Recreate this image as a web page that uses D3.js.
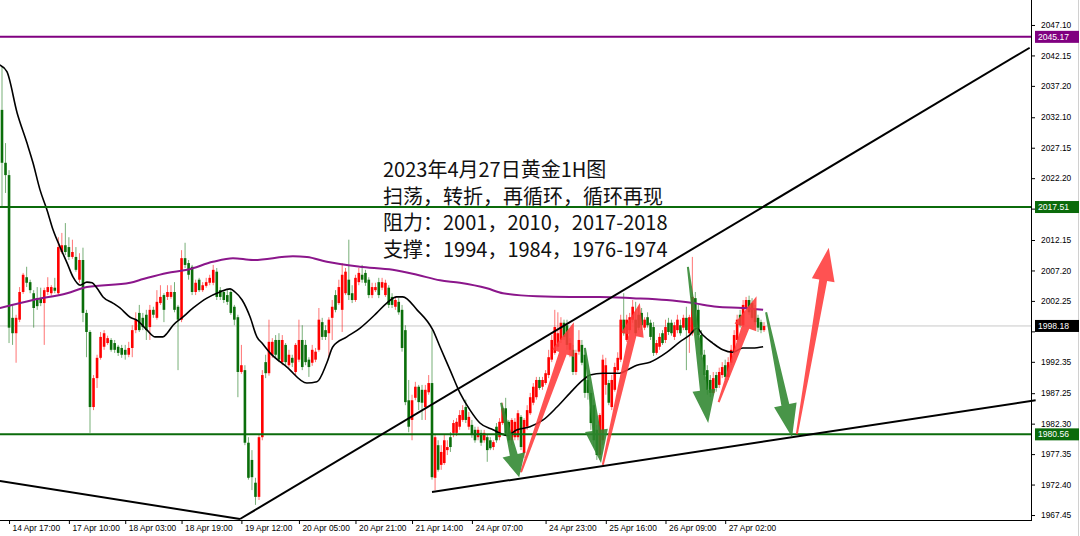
<!DOCTYPE html>
<html><head><meta charset="utf-8">
<script src="https://cdn.jsdelivr.net/npm/d3@7"></script>
<style>body{margin:0;background:#fff;}svg{display:block;}</style>
</head><body><svg id="c" width="1080" height="536"></svg>
<script>
// ---- DATA ----
// hourly candles [open, high, low, close]
const ohlc = [
[2033.3,2040.3,2017.5,2024.7],[2024.7,2027.9,2019.8,2022.7],[2022.7,2023.5,1995.4,1997.9],[1999.5,2001.6,1995.1,1997.0],
[1997.0,2000.0,1992.2,1999.5],[1999.2,2004.5,1998.8,2003.7],[2003.7,2006.8,2003.4,2006.5],[2006.1,2007.8,2004.5,2005.2],
[2005.3,2005.7,2003.5,2004.0],[2003.5,2004.0,1997.9,2001.1],[2002.7,2004.5,2000.8,2001.4],[2002.7,2004.4,2001.4,2001.9],
[2001.9,2004.4,1995.1,2004.0],[2003.7,2006.1,2003.2,2004.5],[2003.5,2004.8,2003.1,2004.5],[2004.4,2006.0,2003.5,2003.9],
[2003.5,2012.6,2003.2,2011.0],[2010.2,2013.3,2009.9,2011.3],[2011.3,2014.9,2009.7,2010.2],[2011.0,2012.6,2008.9,2009.4],
[2009.4,2012.2,2009.1,2010.2],[2009.4,2011.0,2007.0,2007.3],[2005.7,2010.0,2005.2,2008.9],[2008.9,2010.9,1998.8,2000.3],
[2000.3,2000.8,1993.1,1997.2],[1997.2,1997.5,1980.8,1985.0],[1985.0,1990.2,1984.5,1989.7],[1989.7,1993.5,1988.1,1993.0],
[1993.0,1997.2,1992.7,1996.4],[1994.8,1997.5,1994.3,1997.0],[1995.4,1996.6,1995.1,1996.2],[1995.9,1996.2,1994.0,1994.3],
[1995.4,1995.9,1993.8,1994.3],[1994.8,1995.1,1993.3,1993.8],[1994.6,1995.1,1993.0,1993.5],[1994.3,1995.1,1992.7,1993.5],
[1993.5,1995.6,1993.1,1994.6],[1994.6,1998.3,1993.1,1997.5],[1997.5,2000.4,1997.0,1999.2],[2000.3,2001.6,1997.2,1997.5],
[1999.5,2000.3,1997.5,1998.0],[2000.0,2000.8,1995.9,1997.5],[1998.0,2001.6,1995.9,2000.8],[2000.8,2001.3,1999.5,2000.0],
[1999.5,2004.0,1999.2,2002.1],[2001.9,2004.8,2001.6,2002.9],[2003.2,2003.5,1998.8,2000.8],[2002.9,2004.8,2002.4,2003.7],
[2002.9,2004.8,2002.6,2003.7],[2003.7,2005.3,2000.4,2000.8],[2001.3,2001.6,1991.0,1999.2],[1999.2,2010.5,1998.8,2009.2],
[2009.2,2011.7,2007.6,2008.1],[2008.4,2008.9,2005.7,2006.5],[2007.8,2008.1,2003.2,2003.7],[2003.7,2005.7,2003.2,2005.2],
[2005.7,2006.0,2003.7,2004.0],[2004.0,2005.3,2003.7,2004.8],[2004.7,2006.0,2004.4,2005.3],[2005.2,2006.5,2004.8,2006.0],
[2005.2,2008.1,2004.8,2007.3],[2007.0,2007.6,2002.4,2002.9],[2004.0,2004.5,2002.4,2002.9],[2003.7,2004.0,2001.9,2002.4],
[2003.2,2004.0,2001.6,2002.1],[2003.7,2004.0,2000.0,2000.3],[2001.3,2001.6,1998.3,1999.2],[1999.6,2000.0,1986.6,1990.7],
[1990.7,1995.1,1990.4,1991.8],[1991.0,1991.8,1978.8,1979.2],[1979.2,1980.1,1973.2,1973.5],[1976.4,1978.0,1971.5,1973.6],
[1972.7,1973.5,1969.1,1970.4],[1970.4,1980.5,1969.9,1980.1],[1980.1,1991.0,1979.6,1990.2],[1992.3,1993.5,1989.7,1990.5],
[1990.5,1999.2,1990.1,1995.6],[1993.5,1996.2,1993.0,1995.6],[1995.9,1996.7,1993.0,1993.5],[1995.9,1997.0,1992.3,1992.7],
[1992.3,1996.7,1991.8,1995.9],[1995.1,1995.4,1991.8,1992.3],[1991.8,1994.3,1991.4,1993.5],[1993.0,1993.5,1991.5,1992.2],
[1990.7,1995.4,1990.2,1995.1],[1992.7,1999.2,1992.3,1995.9],[1995.9,1998.3,1991.0,1991.5],[1995.1,1995.9,1991.8,1992.3],
[1992.7,1993.1,1989.9,1991.5],[1992.2,1995.1,1991.7,1994.3],[1992.7,1994.6,1992.3,1994.0],[1994.3,2001.1,1994.0,1999.2],
[1998.8,1999.5,1995.9,1996.4],[1997.5,1998.3,1995.9,1996.4],[1997.0,1999.6,1993.1,1999.2],[1999.5,2002.4,1995.9,2001.3],
[2003.2,2004.0,2000.4,2000.8],[2001.9,2005.7,2001.6,2004.5],[2000.8,2008.4,1997.2,2006.5],[2003.5,2007.6,2003.2,2007.0],
[2005.7,2012.2,2002.4,2003.2],[2003.5,2004.8,2001.9,2002.4],[2002.4,2006.5,2002.1,2006.0],[2005.3,2007.6,2004.8,2006.8],
[2006.5,2008.1,2005.2,2005.7],[2006.8,2007.3,2004.7,2005.2],[2005.7,2006.1,2002.7,2003.2],[2003.2,2005.2,2002.7,2004.5],
[2004.0,2005.2,2003.7,2004.5],[2005.3,2006.0,2002.7,2003.2],[2004.4,2006.0,2004.0,2005.3],[2003.2,2005.7,2002.9,2005.2],
[2004.4,2004.8,2001.1,2001.6],[2002.9,2003.5,2001.1,2001.6],[2001.3,2002.9,2000.8,2002.4],[2002.1,2002.7,2000.0,2000.4],
[2000.8,2001.6,1994.0,1994.6],[1997.5,1998.3,1985.3,1985.8],[1986.1,1989.4,1980.9,1981.8],[1982.9,1987.0,1979.6,1986.1],
[1986.5,1989.1,1986.1,1988.3],[1988.3,1988.6,1984.5,1985.8],[1987.8,1988.6,1982.9,1985.7],[1985.0,1988.6,1982.9,1987.8],
[1987.4,1990.2,1987.0,1988.9],[1988.9,1997.5,1973.2,1973.6],[1973.5,1980.5,1971.5,1980.1],[1978.8,1979.6,1974.5,1974.8],
[1975.6,1978.8,1974.8,1977.7],[1975.9,1980.5,1975.6,1979.6],[1978.0,1979.6,1977.2,1978.5],[1980.1,1980.9,1977.7,1978.5],
[1980.8,1982.9,1980.1,1982.4],[1980.8,1983.2,1980.3,1982.6],[1981.8,1984.5,1981.3,1983.7],[1982.9,1985.3,1982.6,1984.5],
[1985.0,1986.2,1982.4,1982.9],[1981.8,1984.2,1981.3,1983.4],[1982.1,1982.9,1980.0,1980.5],[1981.3,1981.8,1979.2,1979.6],
[1980.1,1981.8,1979.6,1981.3],[1980.8,1981.3,1978.7,1979.2],[1979.6,1981.3,1979.2,1980.8],[1980.1,1980.5,1976.1,1978.0],
[1979.6,1980.1,1978.0,1978.3],[1978.5,1979.6,1978.0,1979.3],[1981.8,1982.4,1979.2,1979.6],[1980.1,1983.2,1979.6,1982.6],
[1982.4,1985.7,1982.1,1984.8],[1984.8,1986.5,1980.5,1980.8],[1982.6,1982.9,1979.2,1979.6],[1979.6,1983.2,1978.8,1982.9],
[1980.1,1983.2,1979.6,1982.6],[1980.1,1984.5,1979.6,1984.0],[1983.4,1983.7,1978.0,1978.5],[1977.5,1983.2,1976.7,1982.9],
[1981.8,1985.3,1981.3,1984.5],[1984.0,1987.3,1983.7,1986.6],[1985.7,1988.9,1985.3,1988.3],[1986.6,1989.9,1986.2,1989.4],
[1989.4,1989.9,1987.8,1988.1],[1988.3,1989.9,1987.8,1989.4],[1988.9,1991.0,1988.6,1990.5],[1990.2,1994.3,1989.7,1993.1],
[1992.7,1996.7,1992.3,1995.9],[1993.8,2000.8,1993.5,1998.0],[1994.8,2000.4,1994.3,1997.0],[1995.9,1999.6,1995.4,1998.7],
[1998.7,1999.2,1995.9,1996.4],[1998.3,1999.2,1994.3,1995.1],[1994.3,1996.2,1993.1,1995.4],[1994.3,1995.1,1990.2,1990.7],
[1990.7,1994.3,1990.2,1993.8],[1994.0,1997.5,1993.5,1995.9],[1995.1,1995.9,1991.8,1992.2],[1993.5,1994.3,1986.5,1987.3],
[1989.4,1990.2,1986.2,1987.3],[1987.3,1987.8,1981.3,1982.4],[1985.3,1986.2,1978.5,1979.6],[1981.3,1982.1,1976.4,1977.2],
[1977.2,1984.0,1976.4,1983.7],[1979.6,1993.5,1978.8,1992.7],[1988.6,1993.0,1987.0,1991.8],[1988.9,1989.4,1985.3,1985.7],
[1985.0,1990.2,1984.5,1989.4],[1987.8,1992.2,1987.5,1991.5],[1991.0,1993.9,1990.7,1993.0],[1992.7,2000.0,1992.3,1999.2],
[1999.2,2003.5,1996.6,1997.0],[1995.9,2000.0,1995.6,1999.2],[1997.5,2000.3,1997.0,1999.6],[1999.2,2002.4,1998.7,2001.3],
[1999.2,2002.1,1996.6,1997.0],[2000.0,2001.3,1997.5,1997.9],[2000.3,2001.1,1997.5,1998.3],[1997.9,1999.6,1997.5,1999.2],
[1999.6,2000.4,1997.9,1998.3],[1998.7,1999.2,1995.9,1996.4],[1998.0,1998.8,1993.3,1993.8],[1993.8,1995.9,1993.5,1995.4],
[1994.8,1997.0,1994.3,1996.4],[1997.0,1997.5,1995.1,1995.4],[1995.9,1999.2,1995.4,1998.0],[1998.7,1999.5,1996.7,1997.2],
[1998.7,1999.2,1996.6,1997.0],[1996.4,1998.8,1995.9,1998.3],[1997.5,2000.0,1997.0,1999.2],[1998.3,1999.2,1996.6,1997.0],
[1997.9,2000.0,1997.5,1999.5],[1999.5,2001.3,1991.0,1997.5],[1997.0,2000.0,1993.8,1999.6],[1997.0,2009.4,1996.6,2002.9],
[2002.7,2003.7,1997.5,1998.0],[2000.8,2001.6,1995.9,1996.7],[1996.7,1997.5,1992.7,1993.5],[1993.5,1994.3,1989.4,1990.2],
[1991.0,1991.8,1987.0,1987.8],[1989.4,1990.2,1986.6,1987.3],[1987.3,1990.7,1987.0,1989.7],[1990.2,1990.7,1987.5,1988.1],
[1988.6,1991.4,1988.1,1990.7],[1990.2,1992.3,1989.7,1991.5],[1991.8,1992.7,1989.4,1989.9],[1989.9,1993.1,1989.4,1992.3],
[1992.2,1995.1,1991.8,1994.3],[1994.0,1997.5,1993.5,1996.7],[1995.9,2000.0,1995.6,1999.2],[2000.0,2000.8,1997.9,1998.3],
[1998.3,2002.4,1998.0,2001.6],[2001.1,2002.9,2000.8,2002.4],[2002.4,2003.1,2000.0,2000.4],[2001.9,2002.7,1999.2,1999.5],
[2000.8,2001.6,1998.3,1998.8],[1999.5,2000.0,1997.2,1997.9],[1998.8,1999.2,1997.0,1997.5],[1997.5,1998.8,1997.2,1998.18]
];
// moving averages [bar index, price]
const maFast = [[-0.6,2040.6],[1.4,2039.5],[4.3,2032.8],[7.1,2027.9],[8.8,2024.7],[10.8,2020.3],[12.8,2017.0],[14.5,2013.8],
[16.5,2011.0],[18.5,2008.4],[20.2,2006.1],[22.2,2004.8],[24.1,2005.3],[25.6,2005.2],[27.0,2004.3],[28.7,2002.9],[31.5,2001.9],
[33.5,2001.1],[36.4,1999.6],[38.4,1999.1],[41.2,1997.5],[43.5,1996.4],[45.7,1996.4],[46.9,1997.0],[48.6,1998.3],[51.1,1999.5],
[54.3,2001.1],[58.2,2002.7],[61.9,2003.7],[64.8,2004.2],[66.2,2003.7],[68.2,2002.4],[70.5,1999.6],[72.4,1996.4],[73.9,1995.4],
[76.3,1993.8],[81.4,1991.5],[87.4,1988.9],[90.4,1989.1],[93.4,1992.2],[95.2,1994.8],[99.4,1996.4],[103.3,1997.8],[108.4,2000.3],
[111.4,2001.9],[114.4,2002.9],[116.2,2002.9],[120.5,2000.8],[125.3,1997.5],[127.6,1994.8],[130.9,1991.0],[134.1,1987.3],
[137.4,1984.5],[140.6,1982.4],[144.9,1981.3],[149.4,1980.4],[152.7,1981.3],[156.9,1981.8],[161.2,1982.9],[165.7,1985.0],
[171.0,1987.8],[174.4,1989.4],[176.7,1990.2],[181.0,1990.5],[186.7,1990.5],[189.1,1991.0],[192.4,1991.8],[196.8,1992.3],
[202.4,1993.9],[206.8,1995.6],[210.1,1996.7],[212.5,1997.8],[214.5,1996.7],[217.8,1995.4],[221.2,1994.3],[224.5,1993.9],
[227.9,1994.6],[231.2,1994.6],[234.7,1994.8]];
const maSlow = [[-0.6,2001.1],[8.8,2002.4],[18.5,2003.5],[24.1,2004.5],[36.4,2005.2],[40.1,2005.8],[46.9,2006.8],[52.6,2007.3],
[59.9,2008.6],[65.6,2009.2],[71.3,2008.9],[83.2,2009.5],[87.4,2009.4],[93.4,2008.6],[103.3,2007.8],[113.2,2007.3],[120.5,2006.5],
[127.6,2005.6],[134.1,2005.2],[142.9,2004.3],[148.1,2003.5],[159.2,2003.0],[170.0,2002.9],[180.0,2002.9],[191.1,2002.7],
[202.4,2002.4],[211.2,2001.9],[219.2,2001.3],[227.9,2001.1],[234.7,2000.8]];
const yTickValues = [2047.10,2042.15,2037.20,2032.10,2027.15,2022.20,2017.25,2012.15,2007.20,2002.25,1997.30,1992.35,1987.25,1982.30,1977.35,1972.40,1967.45];
const timeLabels = ["14 Apr 17:00","17 Apr 10:00","18 Apr 03:00","18 Apr 19:00","19 Apr 12:00","20 Apr 05:00","20 Apr 21:00","21 Apr 14:00","24 Apr 07:00","24 Apr 23:00","25 Apr 16:00","26 Apr 09:00","27 Apr 02:00"];
const timeTickBars = [2,19,35,51,68,85,102,119,138,162,182,202,222];
const resistanceLevel = 2017.51, supportLevel = 1980.56, topLevel = 2045.17, lastPrice = 1998.18;
// trend lines [bar1, price1, bar2, price2]
const trendLines = [[-0.6,1973.0,67.6,1966.8],[67.6,1966.8,324,2043.4],[125,1971.2,326,1986.1]];
// scenario arrows [fromBar, fromPrice, toBar, toPrice]
const upArrows = [[154.0,1974.4,171.3,1998.8],[181.0,1975.6,193.4,2001.9],[219.8,1985.8,232.5,2003.0],[246.0,1980.6,256.7,2010.9]];
const downArrows = [[147.5,1985.7,153.4,1973.6],[175.0,1994.6,180.4,1975.9],[209.5,2007.8,216.3,1982.4],[235.7,2000.4,244.4,1980.1]];
const noteLines = ["2023年4月27日黄金1H图","扫荡，转折，再循环，循环再现","阻力：2001，2010，2017-2018","支撑：1994，1984，1976-1974"];

// ---- DRAW ----
const svg = d3.select("#c");
const W = 1080, H = 536, plotR = 1031, plotB = 520;
svg.append("rect").attr("width",W).attr("height",H).attr("fill","#fff");
const x = d3.scaleLinear().domain([0,73,125,168,235]).range([2,259,432,564,764]);
const y = d3.scaleLinear().domain([1966.64,2051.16]).range([plotB,0]);

svg.append("clipPath").attr("id","clip").append("rect").attr("x",0).attr("y",0).attr("width",plotR+6).attr("height",plotB);
const g = svg.append("g").attr("clip-path","url(#clip)");

// last price gray line
g.append("line").attr("x1",0).attr("x2",plotR).attr("y1",y(lastPrice)).attr("y2",y(lastPrice)).attr("stroke","#c8c8c8").attr("stroke-width",1);

// candles
const UP="#ff0000", DN="#0a6e0a";
const cg = g.append("g");
ohlc.forEach((d,i)=>{
  const [o,h,l,c] = d; const col = c>=o?UP:DN; const cx = x(i);
  cg.append("line").attr("x1",cx).attr("x2",cx).attr("y1",y(h)).attr("y2",y(l)).attr("stroke",col).attr("stroke-width",1).attr("stroke-opacity",0.55);
  const top = y(Math.max(o,c)), bot = y(Math.min(o,c));
  cg.append("rect").attr("x",cx-1.3).attr("width",2.6).attr("y",top).attr("height",Math.max(1,bot-top)).attr("fill",col);
});

// moving averages
const line = d3.line().x(d=>x(d[0])).y(d=>y(d[1])).curve(d3.curveMonotoneX);
g.append("path").datum(maSlow).attr("d",line).attr("fill","none").attr("stroke","#8b168b").attr("stroke-width",2);
g.append("path").datum(maFast).attr("d",line).attr("fill","none").attr("stroke","#000").attr("stroke-width",1.6);

// horizontal levels
[[topLevel,"#800080"],[resistanceLevel,"#0b6b0b"],[supportLevel,"#0b6b0b"]].forEach(([p,col])=>{
  g.append("line").attr("x1",0).attr("x2",plotR).attr("y1",y(p)).attr("y2",y(p)).attr("stroke",col).attr("stroke-width",2);
});

// trend lines
trendLines.forEach(t=>{
  g.append("line").attr("x1",x(t[0])).attr("y1",y(t[1])).attr("x2",x(t[2])).attr("y2",y(t[3])).attr("stroke","#000").attr("stroke-width",2);
});

// arrows
function arrow(t, fill){
  const x1=x(t[0]), y1=y(t[1]), x2=x(t[2]), y2=y(t[3]);
  const dx=x2-x1, dy=y2-y1, L=Math.hypot(dx,dy), ux=dx/L, uy=dy/L, nx=-uy, ny=ux;
  const hl=Math.min(33, L*0.3), hw=11.5, sw=4, tw=1;
  const bx=x2-ux*hl, by=y2-uy*hl;
  const pts=[[x1+nx*tw,y1+ny*tw],[bx+nx*sw,by+ny*sw],[bx+nx*hw,by+ny*hw],[x2,y2],[bx-nx*hw,by-ny*hw],[bx-nx*sw,by-ny*sw],[x1-nx*tw,y1-ny*tw]];
  svg.append("polygon").attr("points",pts.map(p=>p.join(",")).join(" ")).attr("fill",fill).attr("fill-opacity",0.88);
}
upArrows.forEach(a=>arrow(a,"#ff3a3a"));
downArrows.forEach(a=>arrow(a,"#2f862f"));

// note text
const tg = svg.append("g").attr("font-family","'Noto Sans CJK SC','Noto Sans',sans-serif").attr("font-size",20).attr("fill","#111");
noteLines.forEach((s,i)=>tg.append("text").attr("x",383).attr("y",177+26.6*i).text(s));

// right axis (labels hidden behind the price badges are left blank)
const fontAx = "'Liberation Sans',Arial,sans-serif";
const badgePrices = [topLevel,resistanceLevel,lastPrice,supportLevel];
const hiddenByBadge = v => badgePrices.some(p=>Math.abs(y(p)-y(v))<9);
const ra = svg.append("g").attr("transform",`translate(${plotR},0)`)
  .call(d3.axisRight(y).tickValues(yTickValues).tickFormat(v=>hiddenByBadge(v)?"":d3.format(".2f")(v)).tickSize(4).tickSizeOuter(0).tickPadding(6));
ra.select(".domain").remove();
ra.selectAll("text").attr("font-family",fontAx).attr("font-size",8.4).attr("fill","#000");
ra.selectAll("line").attr("stroke","#000");
svg.append("line").attr("x1",plotR+0.5).attr("x2",plotR+0.5).attr("y1",0).attr("y2",plotB).attr("stroke","#000");
svg.append("line").attr("x1",1078.5).attr("x2",1078.5).attr("y1",0).attr("y2",H).attr("stroke","#d0d0d0");

// price badges
[[topLevel,"#800080"],[resistanceLevel,"#0b6b0b"],[lastPrice,"#000"],[supportLevel,"#0b6b0b"]].forEach(([p,col])=>{
  const yy=y(p);
  svg.append("rect").attr("x",plotR+4).attr("y",yy-6).attr("width",44).attr("height",12).attr("fill",col);
  svg.append("text").attr("x",plotR+7).attr("y",yy+3).attr("font-family",fontAx).attr("font-size",8.6).attr("fill","#fff").text(d3.format(".2f")(p));
});

// bottom axis
const ba = svg.append("g").attr("transform",`translate(0,${plotB})`)
  .call(d3.axisBottom(x).tickValues(timeTickBars).tickFormat((d,i)=>timeLabels[i]).tickSize(4).tickSizeOuter(0));
ba.select(".domain").remove();
ba.selectAll("text").attr("font-family",fontAx).attr("font-size",8.4).attr("fill","#000").attr("text-anchor","start").attr("x",3).attr("y",5).attr("dy","0.71em");
ba.selectAll("line").attr("stroke","#000");
svg.append("line").attr("x1",0).attr("x2",plotR+1).attr("y1",plotB+0.5).attr("y2",plotB+0.5).attr("stroke","#000");
</script></body></html>
